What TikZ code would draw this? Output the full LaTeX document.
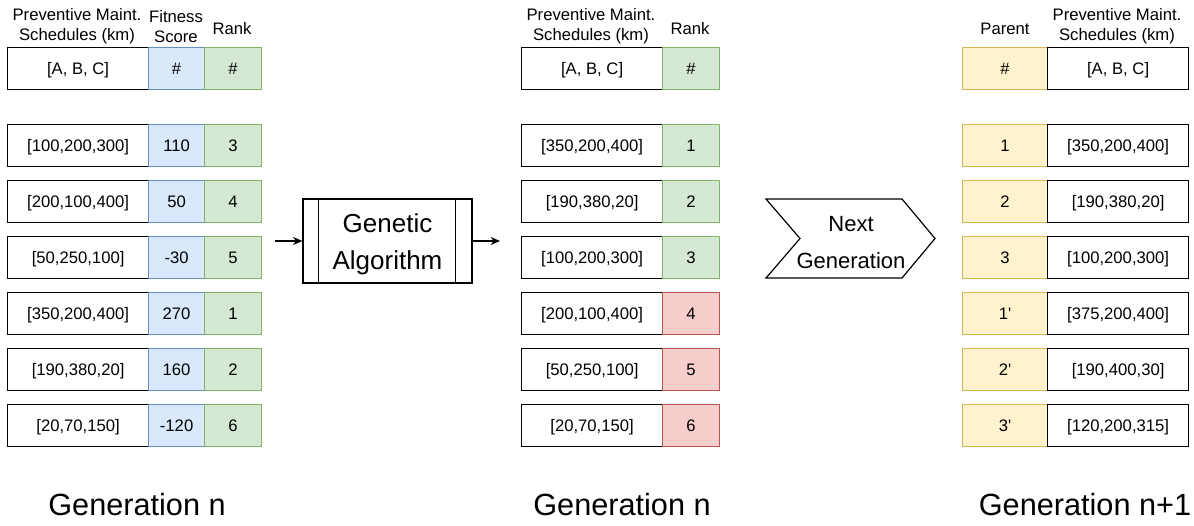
\documentclass[tikz,border=0pt]{standalone}
\usepackage{fontspec}
\setmainfont{Liberation Sans}[Ligatures=TeXOff]
\usetikzlibrary{arrows.meta}
\definecolor{bfill}{HTML}{DAE8FC}\definecolor{bline}{HTML}{6C8EBF}
\definecolor{gfill}{HTML}{D5E8D4}\definecolor{gline}{HTML}{82B366}
\definecolor{rfill}{HTML}{F8CECC}\definecolor{rline}{HTML}{B85450}
\definecolor{yfill}{HTML}{FFF2CC}\definecolor{yline}{HTML}{D6B656}
\begin{document}
\begin{tikzpicture}[x=0.75pt,y=-0.75pt,
  cell/.style={draw, line width=0.9pt, inner sep=0pt, anchor=north west, text height=9pt, text depth=0pt, font=\fontsize{12.5}{15}\selectfont},
  wcell/.style={cell, draw=black, fill=white, minimum width=141*0.75pt, minimum height=42*0.75pt},
  bcell/.style={cell, draw=bline, fill=bfill, minimum width=56*0.75pt, minimum height=42*0.75pt},
  gcell/.style={cell, draw=gline, fill=gfill, minimum width=57*0.75pt, minimum height=42*0.75pt},
  rcell/.style={cell, draw=rline, fill=rfill, minimum width=57*0.75pt, minimum height=42*0.75pt},
  ycell/.style={cell, draw=yline, fill=yfill, minimum width=85*0.75pt, minimum height=42*0.75pt},
  wcellr/.style={cell, draw=black, fill=white, minimum width=141*0.75pt, minimum height=42*0.75pt},
  hdr/.style={align=center, inner sep=0pt, font=\fontsize{12.5}{15}\selectfont},
  gen/.style={inner sep=0pt, anchor=base, font=\fontsize{23}{27}\selectfont},
  arr/.style={-{Stealth[length=7pt,width=6pt]}, line width=0.9pt}
]
\useasboundingbox (0,0) rectangle (1194,525);
% headers
\node[hdr] (h1) at (77,26) {Preventive Maint.\\Schedules (km)};
\node[hdr] (h2) at (176,27) {Fitness\\Score};
\node[hdr] (h3) at (232,29) {Rank};
\node[hdr] (h4) at (591,26) {Preventive Maint.\\Schedules (km)};
\node[hdr] (h5) at (690,29) {Rank};
\node[hdr] (h6) at (1005,29) {Parent};
\node[hdr] (h7) at (1117,26) {Preventive Maint.\\Schedules (km)};
% header rows
\node[wcell] (a0) at (7,47) {[A, B, C]};
\node[bcell] (b0) at (148,47) {\#};
\node[gcell] (c0) at (204,47) {\#};
\node[wcell] (m0) at (521,47) {[A, B, C]};
\node[gcell] (n0) at (662,47) {\#};
\node[ycell] (p0) at (962,47) {\#};
\node[wcellr] (q0) at (1047,47) {[A, B, C]};
% left table
\foreach \i/\s/\f/\r in {1/{[100,200,300]}/110/3, 2/{[200,100,400]}/50/4, 3/{[50,250,100]}/-30/5, 4/{[350,200,400]}/270/1, 5/{[190,380,20]}/160/2, 6/{[20,70,150]}/-120/6}{
  \node[wcell] (a\i) at (7,{124+56*(\i-1)}) {\s};
  \node[bcell] (b\i) at (148,{124+56*(\i-1)}) {\f};
  \node[gcell] (c\i) at (204,{124+56*(\i-1)}) {\r};
}
% middle table
\foreach \i/\s/\r/\st in {1/{[350,200,400]}/1/gcell, 2/{[190,380,20]}/2/gcell, 3/{[100,200,300]}/3/gcell, 4/{[200,100,400]}/4/rcell, 5/{[50,250,100]}/5/rcell, 6/{[20,70,150]}/6/rcell}{
  \node[wcell] (m\i) at (521,{124+56*(\i-1)}) {\s};
  \node[\st] (n\i) at (662,{124+56*(\i-1)}) {\r};
}
% right table
\foreach \i/\p/\s in {1/1/{[350,200,400]}, 2/2/{[190,380,20]}, 3/3/{[100,200,300]}, 4/{1'}/{[375,200,400]}, 5/{2'}/{[190,400,30]}, 6/{3'}/{[120,200,315]}}{
  \node[ycell] (p\i) at (962,{124+56*(\i-1)}) {\p};
  \node[wcellr] (q\i) at (1047,{124+56*(\i-1)}) {\s};
}
% Genetic algorithm box
\node[draw, line width=0.9pt, minimum width=169*0.75pt, minimum height=84*0.75pt, inner sep=0pt] (ga) at (387.5,241) {};
\node[align=center, inner sep=0pt, font=\fontsize{19.5}{27.75}\selectfont] (gat) at (387.5,244) {Genetic\\Algorithm};
\draw[line width=0.9pt] ([xshift=16*0.75pt]ga.north west) -- ([xshift=16*0.75pt]ga.south west);
\draw[line width=0.9pt] ([xshift=-17*0.75pt]ga.north east) -- ([xshift=-17*0.75pt]ga.south east);
\coordinate (s1) at (275,241);
\coordinate (e2) at (500,241);
\draw[arr] (s1) -- (ga.west);
\draw[arr] (ga.east) -- (e2);
% Next generation chevron
\draw[line width=0.9pt, fill=white] (766,199) -- (902,199) -- (935,238.5) -- (902,278) -- (766,278) -- (800,238.5) -- cycle;
\node[align=center, inner sep=0pt, font=\fontsize{16.5}{27.75}\selectfont] (ng) at (851,243) {Next\\Generation};
% generation labels
\node[gen] (g1) at (137,515) {Generation n};
\node[gen] (g2) at (622,515) {Generation n};
\node[gen] (g3) at (1085,515) {Generation n+1};
\end{tikzpicture}
\end{document}
